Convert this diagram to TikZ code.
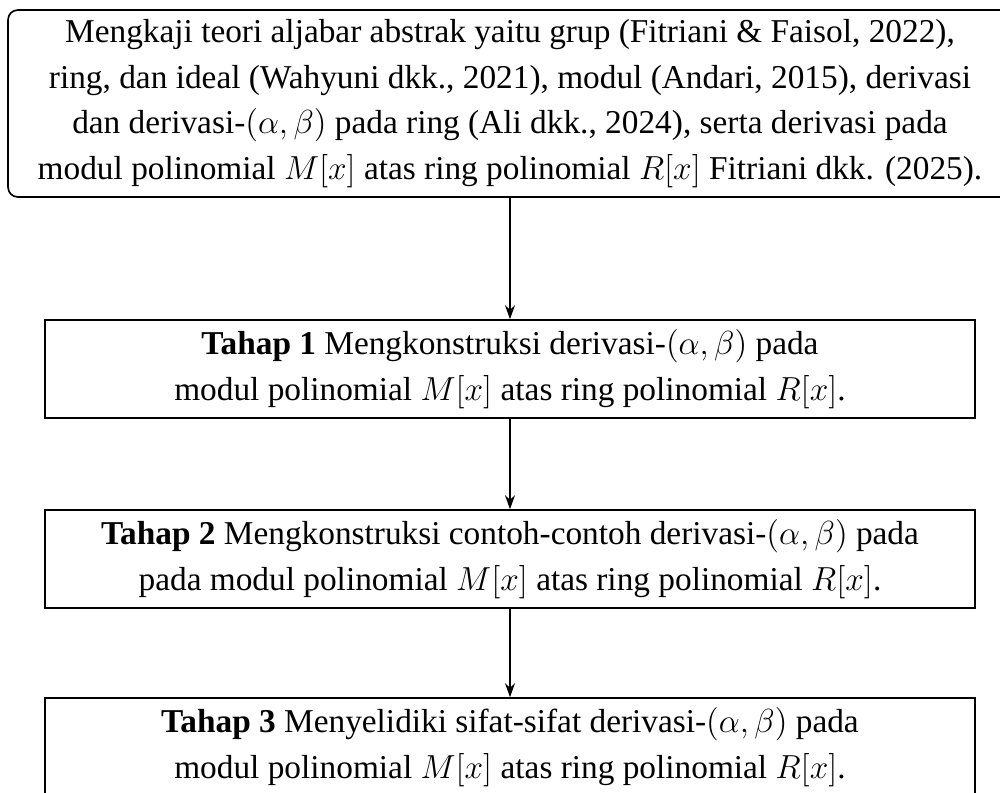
\documentclass[tikz,border=0pt]{standalone}
\usepackage{amsmath}
\usepackage[no-math]{fontspec}
\setmainfont{Liberation Serif}
\usepackage{tikz}
\usetikzlibrary{positioning,arrows.meta}

\begin{document}
\begin{tikzpicture}[
    x=0.36pt, y=-0.36pt,
    topbox/.style={rectangle, draw=black, line width=0.6pt, rounded corners=3.5pt, align=center, minimum width=361.4pt, minimum height=67.3pt, font=\fontsize{12}{16.4}\selectfont},
    stagebox/.style={rectangle, draw=black, line width=0.6pt, align=center, minimum width=335pt, minimum height=35.3pt, font=\fontsize{12}{16.4}\selectfont},
    flow/.style={-{Stealth[length=5pt, width=3.6pt]}, line width=0.6pt}
]
\useasboundingbox (0,0) rectangle (1000,792);

\node[topbox] (kajian) at (510,103.5) {Mengkaji teori aljabar abstrak yaitu grup (Fitriani \& Faisol, 2022),\\
ring, dan ideal (Wahyuni dkk., 2021), modul (Andari, 2015), derivasi\\
dan derivasi-$(\alpha, \beta)$ pada ring (Ali dkk., 2024), serta derivasi pada\\
modul polinomial $M[x]$ atas ring polinomial $R[x]$ Fitriani dkk. (2025).};

\node[stagebox] (tahap1) at (510,369) {\textbf{Tahap 1} Mengkonstruksi derivasi-$(\alpha, \beta)$ pada\\
modul polinomial $M[x]$ atas ring polinomial $R[x]$.};

\node[stagebox] (tahap2) at (510,559) {\textbf{Tahap 2} Mengkonstruksi contoh-contoh derivasi-$(\alpha, \beta)$ pada\\
pada modul polinomial $M[x]$ atas ring polinomial $R[x]$.};

\node[stagebox] (tahap3) at (510,747) {\textbf{Tahap 3} Menyelidiki sifat-sifat derivasi-$(\alpha, \beta)$ pada\\
modul polinomial $M[x]$ atas ring polinomial $R[x]$.};

\draw[flow] (kajian) -- (tahap1);
\draw[flow] (tahap1) -- (tahap2);
\draw[flow] (tahap2) -- (tahap3);

\end{tikzpicture}
\end{document}
